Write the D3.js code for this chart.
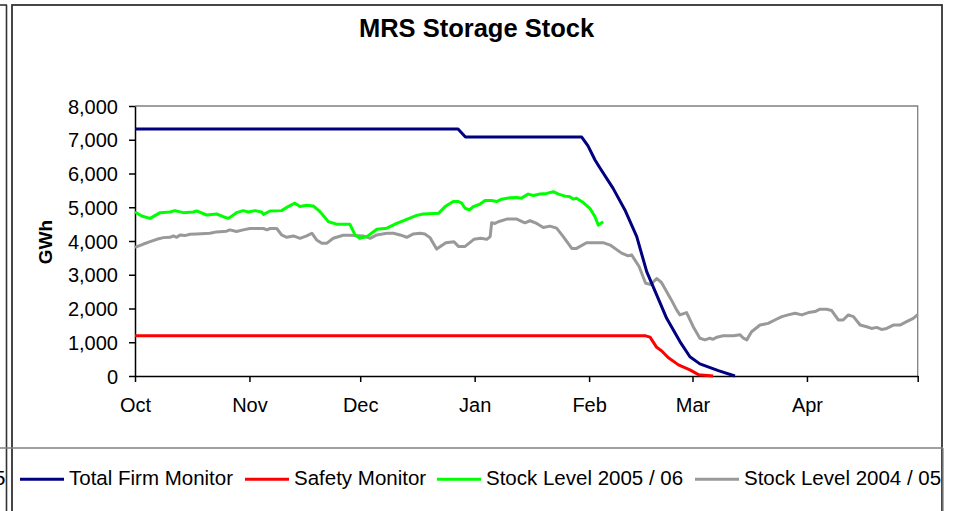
<!DOCTYPE html>
<html>
<head>
<meta charset="utf-8">
<script src="https://cdn.jsdelivr.net/npm/d3@7"></script>
<style>
  html, body { margin: 0; padding: 0; background: #fff; }
  svg { display: block; }
  text { font-family: Arial, "Liberation Sans", sans-serif; fill: #000; }
</style>
</head>
<body>
<svg id="chart" width="959" height="511"></svg>
<script>
// ---------- DATA (day offsets from 1 Oct, values in GWh) ----------
const monthLabels = ["Oct", "Nov", "Dec", "Jan", "Feb", "Mar", "Apr"];
const yTicks = [0, 1000, 2000, 3000, 4000, 5000, 6000, 7000, 8000];

const firmDays   = [0, 87.5, 88.5, 89.5, 121, 122.7, 124.6, 125.9, 129.5, 132.7, 135.9, 138.6, 141.7, 144.0, 147.6, 150.3, 153.0, 158.0, 162.5];
const firmValues = [7320, 7320, 7200, 7080, 7080, 6820, 6400, 6170, 5560, 4920, 4130, 3090, 2300, 1710, 1020, 570, 360, 160, 0];

const safetyDays   = [0, 138.3, 139.5, 141.3, 142.6, 144.4, 147.2, 150.3, 152.6, 156.6];
const safetyValues = [1190, 1190, 1150, 850, 750, 550, 330, 180, 40, 0];

const stock0506Days = [0, 1.8, 4.1, 6.8, 9.5, 10.8, 13.1, 15.8, 16.7, 19.4, 22.1, 23.9, 25.3, 27.5, 29.3, 30.7, 32.5, 34.3, 34.8, 36.6,
  39.7, 41.5, 43.3, 44.7, 46.5, 48.3, 50.1, 52.4, 54.6, 58.2, 59.6, 60.9, 62.8, 65.5, 68.2, 70.9, 73.6, 76.3, 78.1, 82.2,
  84, 86.2, 87.6, 88.5, 89.4, 90.6, 91.6, 93.4, 94.8, 96.6, 98, 99.3, 101.6, 103.4, 104.7, 106.5, 107.9, 109.7, 111.5, 113.3,
  114.7, 116.5, 117.8, 118.7, 119.6, 121.4, 123.2, 124.6, 125.5, 126.8];
const stock0506Values = [4860, 4740, 4670, 4840, 4860, 4900, 4840, 4860, 4890, 4770, 4800, 4720, 4670, 4840, 4900, 4860, 4900, 4860, 4790, 4890,
  4900, 5020, 5120, 5020, 5060, 5040, 4870, 4570, 4500, 4500, 4180, 4080, 4130, 4350, 4380, 4520, 4640, 4760, 4800, 4820,
  5020, 5170, 5170, 5120, 4970, 4920, 5020, 5090, 5200, 5200, 5170, 5240, 5280, 5290, 5270, 5390, 5350, 5390, 5410, 5460,
  5390, 5330, 5310, 5240, 5270, 5140, 4970, 4720, 4470, 4570];

const stock0405Days = [0, 2.3, 4.1, 5.9, 7.7, 9.5, 10.4, 11.3, 12.2, 13.5, 14.9, 16.7, 20.3, 22.1, 24.8, 25.7, 27.5, 29.3, 31.1, 34.8,
  35.7, 36.6, 38.4, 39.7, 41.1, 42.9, 44.7, 46.5, 47.9, 49.2, 50.6, 51.9, 53.7, 56.4, 58.2, 61.8, 63.7, 65.5, 68.2, 70,
  71.8, 73.6, 75.4, 77.2, 78.5, 79.9, 81.7, 84.2, 86.4, 87.6, 89.4, 91.8, 93.6, 95.3, 96.2, 96.6, 97.5, 98.4, 100.7, 103.4,
  105.6, 107, 108.8, 110.6, 112.4, 114.2, 116, 118.3, 119.6, 122.3, 126.8, 128.7, 131.8, 133.6, 134.5, 136.5, 138.3, 139.7, 141.3, 142.6,
  145.2, 146.7, 147.6, 149.4, 151.2, 153, 154.4, 155.7, 156.6, 157.6, 159.3, 162.1, 163.9, 164.8, 165.7, 167, 169.3, 171.5, 173.3, 175.2,
  176.9, 178.8, 180.6, 182.4, 184.2, 185.5, 187.3, 188.7, 190.5, 191.8, 193.2, 194.6, 196.4, 198.2, 199.5, 200.9, 202.2, 203.6, 205.4, 207.2,
  209, 210.8, 212];
const stock0405Values = [3810, 3910, 3980, 4050, 4100, 4110, 4150, 4110, 4180, 4160, 4200, 4210, 4230, 4270, 4290, 4330, 4280, 4330, 4370, 4370,
  4330, 4370, 4370, 4180, 4110, 4150, 4080, 4150, 4230, 4030, 3930, 3930, 4080, 4170, 4170, 4150, 4080, 4180, 4230, 4230,
  4180, 4110, 4210, 4230, 4210, 4100, 3760, 3950, 3980, 3840, 3840, 4050, 4080, 4050, 4130, 4540, 4520, 4570, 4650, 4650,
  4540, 4600, 4520, 4400, 4440, 4380, 4130, 3780, 3780, 3950, 3950, 3880, 3640, 3560, 3590, 3250, 2750, 2710, 2890, 2770,
  2270, 1960, 1810, 1880, 1460, 1120, 1070, 1120, 1090, 1150, 1190, 1190, 1220, 1120, 1070, 1310, 1510, 1560, 1660, 1760,
  1810, 1860, 1810, 1880, 1910, 1980, 1980, 1940, 1660, 1660, 1810, 1760, 1510, 1460, 1410, 1440, 1380, 1410, 1510, 1510,
  1610, 1710, 1820];

const seriesNames  = ["Total Firm Monitor", "Safety Monitor", "Stock Level 2005 / 06", "Stock Level 2004 / 05"];
const seriesColors = ["#000080", "#ff0000", "#00ff00", "#999999"];
const seriesData = [
  [firmDays, firmValues],
  [safetyDays, safetyValues],
  [stock0506Days, stock0506Values],
  [stock0405Days, stock0405Values]
];

// ---------- CHART ----------
const svg = d3.select("#chart");
const start = new Date(Date.UTC(2005, 9, 1));
const end = new Date(Date.UTC(2006, 4, 1));
const plot = { left: 135, right: 917.7, top: 106, bottom: 376 };

const x = d3.scaleUtc().domain([start, end]).range([plot.left, plot.right]);
const y = d3.scaleLinear().domain([0, 8000]).range([plot.bottom, plot.top]);
const dayToDate = d => new Date(start.getTime() + d * 86400000);

// outer frames
svg.append("line").attr("x1", 0).attr("x2", 7).attr("y1", 5).attr("y2", 5)
  .attr("stroke", "#333").attr("stroke-width", 1.6);
svg.append("line").attr("x1", 6.5).attr("x2", 6.5).attr("y1", 5).attr("y2", 511)
  .attr("stroke", "#333").attr("stroke-width", 1.6);
svg.append("rect").attr("x", 12).attr("y", 5).attr("width", 930).attr("height", 520)
  .attr("fill", "none").attr("stroke", "#333").attr("stroke-width", 1.8);

// title
svg.append("text").attr("x", 476.5).attr("y", 37.3).attr("text-anchor", "middle")
  .style("font-size", "25.5px").style("font-weight", "bold").text("MRS Storage Stock");

// plot area border (top/right gray)
svg.append("path")
  .attr("d", `M${plot.left},${plot.top}H${plot.right}V${plot.bottom}`)
  .attr("fill", "none").attr("stroke", "#808080").attr("stroke-width", 1.3);

// y axis
const yAxis = d3.axisLeft(y).tickValues(yTicks).tickSize(6).tickSizeOuter(0).tickPadding(11)
  .tickFormat(d3.format(","));
const gy = svg.append("g").attr("transform", `translate(${plot.left},0)`).call(yAxis);
gy.selectAll("text").style("font-size", "20px").attr("dy", "0.36em");
gy.selectAll("line, path").attr("stroke", "#000").attr("stroke-width", 1.5);

// x axis
const monthTicks = d3.utcMonth.range(start, d3.utcDay.offset(end, 1));
const xAxis = d3.axisBottom(x).tickValues(monthTicks).tickSize(6).tickSizeOuter(0).tickPadding(16)
  .tickFormat((d, i) => monthLabels[i] || "");
const gx = svg.append("g").attr("transform", `translate(0,${plot.bottom})`).call(xAxis);
gx.selectAll("text").style("font-size", "20px");
gx.selectAll("line, path").attr("stroke", "#000").attr("stroke-width", 1.5);

// y axis title
svg.append("text").attr("transform", `translate(52,242) rotate(-90)`).attr("text-anchor", "middle")
  .style("font-size", "19px").style("font-weight", "bold").text("GWh");

// series lines
const line = d3.line().x(p => x(dayToDate(p[0]))).y(p => y(p[1]));
const drawOrder = [3, 2, 1, 0];
drawOrder.forEach(i => {
  const [days, vals] = seriesData[i];
  const pts = days.map((d, k) => [d, vals[k]]);
  svg.append("path").datum(pts).attr("d", line)
    .attr("fill", "none").attr("stroke", seriesColors[i]).attr("stroke-width", 3)
    .attr("stroke-linejoin", "round").attr("stroke-linecap", "butt");
});

// legend box
svg.append("line").attr("x1", 0).attr("x2", 943).attr("y1", 448).attr("y2", 448)
  .attr("stroke", "#808080").attr("stroke-width", 1.3);
svg.append("line").attr("x1", 943).attr("x2", 943).attr("y1", 448).attr("y2", 511)
  .attr("stroke", "#808080").attr("stroke-width", 1.3);
// partly hidden text from a neighbouring legend on the left edge
svg.append("text").attr("x", 5.5).attr("y", 484.5).attr("text-anchor", "end")
  .style("font-size", "20.5px").text(seriesNames[3]);

const legendStarts = [20, 245, 437, 695];
const legend = svg.append("g");
seriesNames.forEach((name, i) => {
  const lx = legendStarts[i];
  legend.append("line").attr("x1", lx).attr("x2", lx + 44).attr("y1", 479.3).attr("y2", 479.3)
    .attr("stroke", seriesColors[i]).attr("stroke-width", 3);
  legend.append("text").attr("x", lx + 49).attr("y", 484.5)
    .style("font-size", "20.5px").text(name);
});
</script>
</body>
</html>
